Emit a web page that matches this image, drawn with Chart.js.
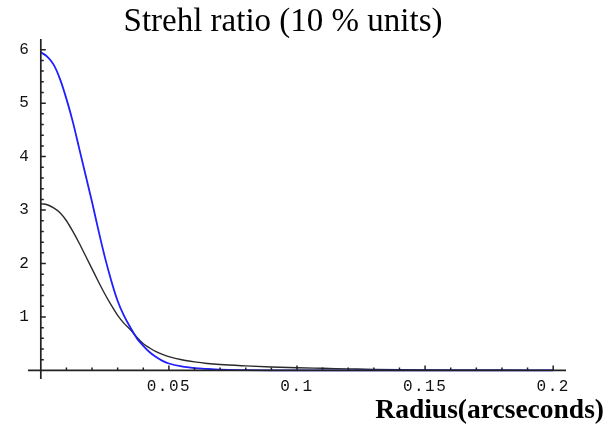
<!DOCTYPE html>
<html>
<head>
<meta charset="utf-8">
<script src="https://cdn.jsdelivr.net/npm/chart.js@4/dist/chart.umd.min.js"></script>
<style>
  html, body { margin: 0; padding: 0; background: #fff; }
  #wrap { width: 608px; height: 432px; position: relative; }
</style>
</head>
<body>
<div id="wrap"><canvas id="c" width="608" height="432"></canvas></div>
<script>
// Radius in arcseconds
const radius = [0, 0.0025, 0.005, 0.0075, 0.01, 0.0125, 0.015, 0.0175, 0.02, 0.0225,
  0.025, 0.0275, 0.03, 0.0325, 0.035, 0.0375, 0.04, 0.0425, 0.045, 0.0475,
  0.05, 0.055, 0.06, 0.065, 0.07, 0.08, 0.09, 0.1, 0.11, 0.12,
  0.13, 0.14, 0.15, 0.16, 0.17, 0.18, 0.19, 0.2];

// Strehl ratio profile, compact core (blue)
const coreProfile = [5.95, 5.87, 5.72, 5.45, 5.08, 4.65, 4.15, 3.65, 3.15, 2.62,
  2.12, 1.68, 1.30, 1.02, 0.80, 0.60, 0.46, 0.34, 0.25, 0.18,
  0.13, 0.075, 0.045, 0.028, 0.015, 0.006, 0.002, 0, 0, 0,
  0, 0, 0, 0, 0, 0, 0, 0];

// Strehl ratio profile, broad halo (black)
const haloProfile = [3.12, 3.10, 3.04, 2.95, 2.80, 2.60, 2.38, 2.14, 1.90, 1.66,
  1.43, 1.22, 1.03, 0.88, 0.76, 0.62, 0.50, 0.42, 0.35, 0.30,
  0.26, 0.20, 0.16, 0.13, 0.11, 0.085, 0.065, 0.05, 0.04, 0.03,
  0.02, 0.012, 0.008, 0.005, 0.004, 0.003, 0.002, 0.001];

// Axis ticks
const xMajorTicks = [0.05, 0.1, 0.15, 0.2];
const xTickLabels = ['0.05', '0.1', '0.15', '0.2'];
const yMajorTicks = [1, 2, 3, 4, 5, 6];
const yTickLabels = ['1', '2', '3', '4', '5', '6'];

const titleText = 'Strehl ratio (10 % units)';
const xAxisText = 'Radius(arcseconds)';

const toPoints = (ys) => radius.map((r, i) => ({ x: r, y: ys[i] }));

// Draws the axes through the origin, inward tick marks and all labels
const axesPlugin = {
  id: 'originAxes',
  afterDatasetsDraw(chart) {
    const ctx = chart.ctx;
    const xs = chart.scales.x, ys = chart.scales.y;
    const x0 = xs.getPixelForValue(0), y0 = ys.getPixelForValue(0);
    ctx.save();
    ctx.strokeStyle = '#222';
    ctx.lineWidth = 1.7;
    ctx.beginPath();
    ctx.moveTo(xs.left, y0); ctx.lineTo(xs.right, y0);
    ctx.moveTo(x0, ys.bottom); ctx.lineTo(x0, ys.top);
    ctx.stroke();

    ctx.lineWidth = 1.5;
    ctx.beginPath();
    // x ticks: minor every 0.01, major every 0.05
    for (let k = 1; k <= 20; k++) {
      const v = k * 0.01;
      const px = xs.getPixelForValue(v);
      const len = (k % 5 === 0) ? 5 : 3;
      ctx.moveTo(px, y0); ctx.lineTo(px, y0 - len);
    }
    // y ticks: minor every 0.2, major every 1
    for (let k = 1; k <= 30; k++) {
      const v = k * 0.2;
      const py = ys.getPixelForValue(v);
      const len = (k % 5 === 0) ? 5 : 3;
      ctx.moveTo(x0, py); ctx.lineTo(x0 + len, py);
    }
    ctx.stroke();

    ctx.fillStyle = '#111';
    ctx.font = '16px "Liberation Mono", "DejaVu Sans Mono", monospace';
    ctx.letterSpacing = '1.5px';
    ctx.textAlign = 'center';
    ctx.textBaseline = 'middle';
    xMajorTicks.forEach((v, i) => {
      ctx.fillText(xTickLabels[i], xs.getPixelForValue(v), y0 + 16);
    });
    ctx.letterSpacing = '0px';
    ctx.textAlign = 'right';
    yMajorTicks.forEach((v, i) => {
      ctx.fillText(yTickLabels[i], x0 - 12, ys.getPixelForValue(v));
    });

    ctx.fillStyle = '#000';
    ctx.textBaseline = 'alphabetic';
    ctx.textAlign = 'center';
    ctx.font = '33px "Liberation Serif", "Times New Roman", serif';
    ctx.fillText(titleText, 283, 31);
    ctx.textAlign = 'right';
    ctx.font = 'bold 27.5px "Liberation Serif", "Times New Roman", serif';
    ctx.fillText(xAxisText, 604, 418);
    ctx.restore();
  }
};

new Chart(document.getElementById('c'), {
  type: 'line',
  data: {
    datasets: [
      {
        label: 'core',
        data: toPoints(coreProfile),
        borderColor: '#1f1fff',
        borderWidth: 1.8,
        pointRadius: 0,
        cubicInterpolationMode: 'monotone',
        fill: false
      },
      {
        label: 'halo',
        data: toPoints(haloProfile),
        borderColor: '#2a2a2a',
        borderWidth: 1.4,
        pointRadius: 0,
        cubicInterpolationMode: 'monotone',
        fill: false
      }
    ]
  },
  options: {
    responsive: false,
    animation: false,
    events: [],
    layout: { padding: { left: 28, right: 42, top: 39, bottom: 53 } },
    plugins: { legend: { display: false }, tooltip: { enabled: false }, title: { display: false } },
    scales: {
      x: { type: 'linear', min: -0.005, max: 0.205, display: false },
      y: { type: 'linear', min: -0.16, max: 6.2, display: false }
    }
  },
  plugins: [axesPlugin]
});
</script>
</body>
</html>
